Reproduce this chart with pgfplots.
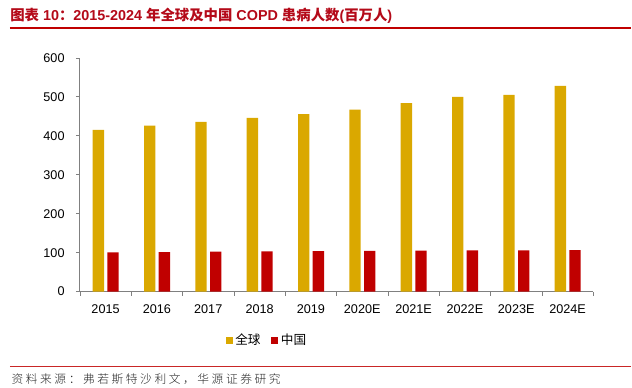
\documentclass[border=0pt]{standalone}
\usepackage{pgfplots}
\pgfplotsset{compat=1.18}
\usepackage{fontspec}
\setmainfont{Liberation Sans}
\newfontfamily\cjk{Noto Sans CJK SC}
\newfontfamily\cjkl[LetterSpace=22]{Noto Sans CJK SC Light}
\definecolor{gold}{RGB}{218,168,0}
\definecolor{cred}{RGB}{192,0,0}
\definecolor{tred}{RGB}{180,10,25}
\definecolor{axgray}{RGB}{128,128,128}
\begin{document}
\begin{tikzpicture}
\path (0,0) rectangle (474pt,291pt);
% title
\node[anchor=west,inner sep=0pt,text=tred] at (7.5pt,279.5pt)
 {\fontsize{10.8pt}{12pt}\selectfont\bfseries{\cjk 图表} 10{\cjk ：}2015-2024 {\cjk 年全球及中国} COPD {\cjk 患病人数}({\cjk 百万人})};
\draw[cred,line width=1.2pt] (7.5pt,270pt) -- (474pt,270pt);
\draw[cred!85,line width=1.2pt] (7.5pt,15.75pt) -- (474pt,15.75pt);
\node[anchor=west,inner sep=0pt,text=black!85] at (8.5pt,6.5pt)
 {\cjkl\fontsize{8.8pt}{9pt}\selectfont 资料来源：弗若斯特沙利文，华源证券研究};
\begin{axis}[
  at={(60pt,72pt)}, anchor=south west,
  scale only axis, width=385.5pt, height=175.5pt,
  xmin=-0.5, xmax=9.5, ymin=0, ymax=600,
  ytick={0,100,...,600},
  xtick={0,...,9},
  xticklabels={2015,2016,2017,2018,2019,2020E,2021E,2022E,2023E,2024E},
  major x tick style={draw=none},
  minor xtick={-0.5,0.5,...,9.5},
  minor tick length=3pt,
  major tick length=3pt,
  tick align=outside,
  axis lines*=left,
  axis line style={axgray,line width=0.8pt,-},
  tick style={axgray,line width=0.6pt},
  ytick pos=left, xtick pos=bottom,
  tick label style={font=\fontsize{9.5pt}{11pt}\selectfont, text=black},
  /pgf/number format/assume math mode=true,
  xticklabel style={yshift=-3pt},
  yticklabel style={xshift=-5pt},
  bar width=8.5pt,
  legend style={at={(0.365,-0.209)},anchor=center,draw=none,fill=none,
    legend columns=2, font=\cjk\fontsize{9.5pt}{11pt}\selectfont,
    /tikz/every even column/.append style={column sep=6pt}},
  legend image code/.code={\fill[#1] (0pt,-2.6pt) rectangle (5.3pt,2.7pt);},
]
\addplot[ybar, bar shift=-5.4pt, fill=gold, draw=none] coordinates {
 (0,415) (1,426) (2,436) (3,446) (4,456) (5,467) (6,484) (7,500) (8,505) (9,528)};
\addlegendentry{全球}
\addplot[ybar, bar shift=5.6pt, fill=cred, draw=none] coordinates {
 (0,101) (1,101.6) (2,102.4) (3,103.2) (4,104) (5,104.3) (6,105) (7,105.8) (8,106) (9,106.3)};
\addlegendentry{中国}
\end{axis}
\end{tikzpicture}
\end{document}
